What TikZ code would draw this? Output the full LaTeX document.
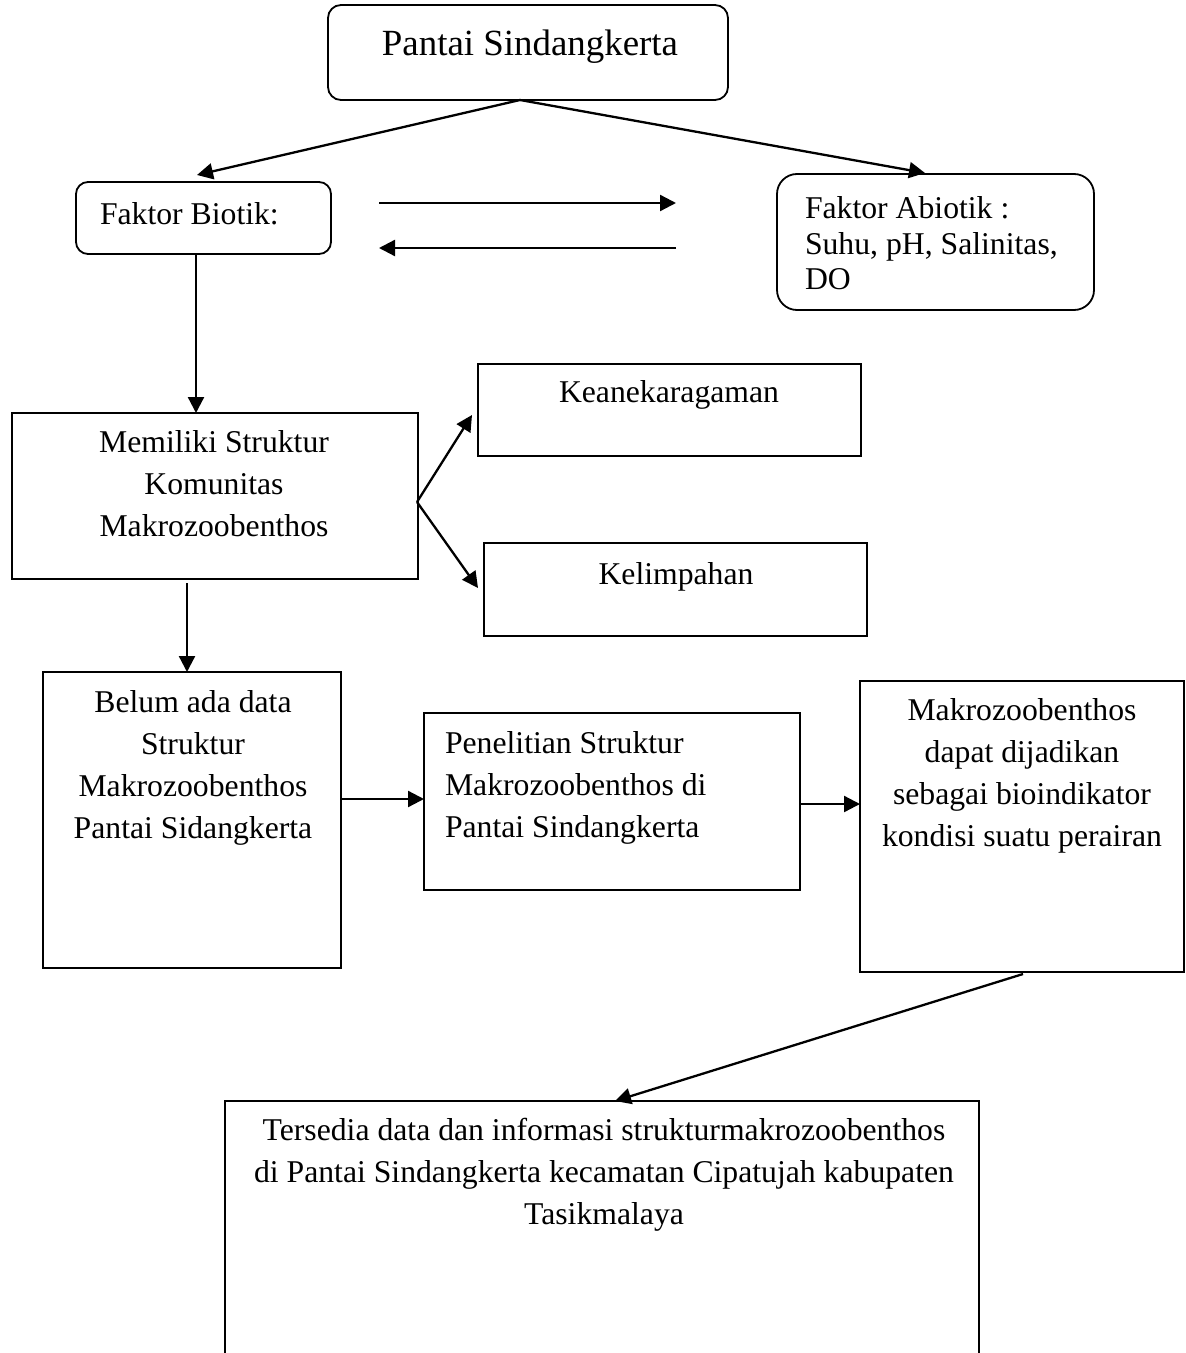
\documentclass[tikz,border=0pt]{standalone}
\usepackage{fontspec}
\setmainfont{Liberation Serif}
\usetikzlibrary{arrows.meta}
\begin{document}
\begin{tikzpicture}[x=0.5pt,y=-0.5pt,
  box/.style={draw, line width=0.9pt, inner sep=0pt, outer sep=0pt},
  rbox/.style={box, rounded corners=6pt},
  txt/.style={inner sep=0pt, outer sep=0pt, font=\fontsize{15.85}{21}\selectfont},
  arr/.style={line width=1.15pt, -{Triangle[length=8pt,width=8pt]}}]
\useasboundingbox (0,0) rectangle (1185,1353);
\begin{scope}
\clip (0,0) rectangle (1185,1353);
% boxes and texts
\node[rbox, rounded corners=6.5pt, minimum width=200pt, minimum height=47.5pt] (top) at (528,52.5) {};
\node[txt, anchor=north, font=\fontsize{18.45}{22}\selectfont] (toptxt) at (530,30) {Pantai Sindangkerta};
\node[rbox, minimum width=127.5pt, minimum height=36pt] (bio) at (203.5,218) {};
\node[txt, anchor=north west] (biotxt) at (100,203) {Faktor Biotik:};
\node[rbox, rounded corners=10pt, minimum width=158.5pt, minimum height=68pt] (abio) at (935.5,242) {};
\node[txt, anchor=north west, align=left, font=\fontsize{15.85}{17.75}\selectfont] (abiotxt) at (805,197) {Faktor Abiotik :\\Suhu, pH, Salinitas,\\DO};
\node[box, minimum width=191.5pt, minimum height=46pt] (kea) at (669.5,410) {};
\node[txt, anchor=north] (keatxt) at (669,381) {Keanekaragaman};
\node[box, minimum width=191.5pt, minimum height=46.5pt] (kel) at (675.5,589.5) {};
\node[txt, anchor=north] (keltxt) at (676,563) {Kelimpahan};
\node[box, minimum width=203pt, minimum height=83pt] (mem) at (215,496) {};
\node[txt, anchor=north, align=center] (memtxt) at (214,431) {Memiliki Struktur\\Komunitas\\Makrozoobenthos};
\node[box, minimum width=149pt, minimum height=148pt] (bel) at (192,820) {};
\node[txt, anchor=north, align=center] (beltxt) at (193,690) {Belum ada data\\Struktur\\Makrozoobenthos\\Pantai Sidangkerta};
\node[box, minimum width=188pt, minimum height=88.5pt] (pen) at (612,801.5) {};
\node[txt, anchor=north west, align=left] (pentxt) at (445,731) {Penelitian Struktur\\Makrozoobenthos di\\Pantai Sindangkerta};
\node[box, minimum width=162pt, minimum height=145.5pt] (mak) at (1022,826.5) {};
\node[txt, anchor=north, align=center] (maktxt) at (1022,698) {Makrozoobenthos\\dapat dijadikan\\sebagai bioindikator\\kondisi suatu perairan};
\node[box, minimum width=377pt, minimum height=149.5pt] (tsd) at (602,1250.5) {};
\node[txt, anchor=north, align=center] (tsdtxt) at (604,1118) {Tersedia data dan informasi strukturmakrozoobenthos\\di Pantai Sindangkerta kecamatan Cipatujah kabupaten\\Tasikmalaya};
% connectors
\draw[arr] ([xshift=-4pt]top.south) -- ([xshift=-3.25pt,yshift=3.5pt]bio.north);
\draw[arr] ([xshift=-4pt]top.south) -- ([xshift=-5.25pt,yshift=0.5pt]abio.north);
\coordinate (r1) at (379,203);
\coordinate (r2) at (676,203);
\coordinate (l1) at (676,248);
\coordinate (l2) at (379,248);
\draw[arr] (r1) -- (r2);
\draw[arr] (l1) -- (l2);
\draw[arr] ([xshift=-3.75pt]bio.south) -- ([xshift=-3.75pt]bio.south |- mem.north);
\coordinate (br) at ([xshift=-0.5pt,yshift=-3pt]mem.east);
\draw[arr] (br) -- ([xshift=-3pt,yshift=-2.5pt]kea.west);
\draw[arr] (br) -- ([xshift=-3pt,yshift=0.75pt]kel.west);
\draw[arr, shorten <=2pt] ([xshift=-2.5pt]bel.north |- mem.south) -- ([xshift=-2.5pt]bel.north);
\draw[arr] ([yshift=10.5pt]bel.east) -- ([yshift=10.5pt]bel.east -| pen.west);
\draw[arr] ([yshift=-1.25pt]pen.east) -- ([yshift=-1.25pt]pen.east -| mak.west);
\draw[arr] ([xshift=0.5pt,yshift=-1pt]mak.south) -- ([xshift=6.5pt]tsd.north);
\end{scope}
\end{tikzpicture}
\end{document}
